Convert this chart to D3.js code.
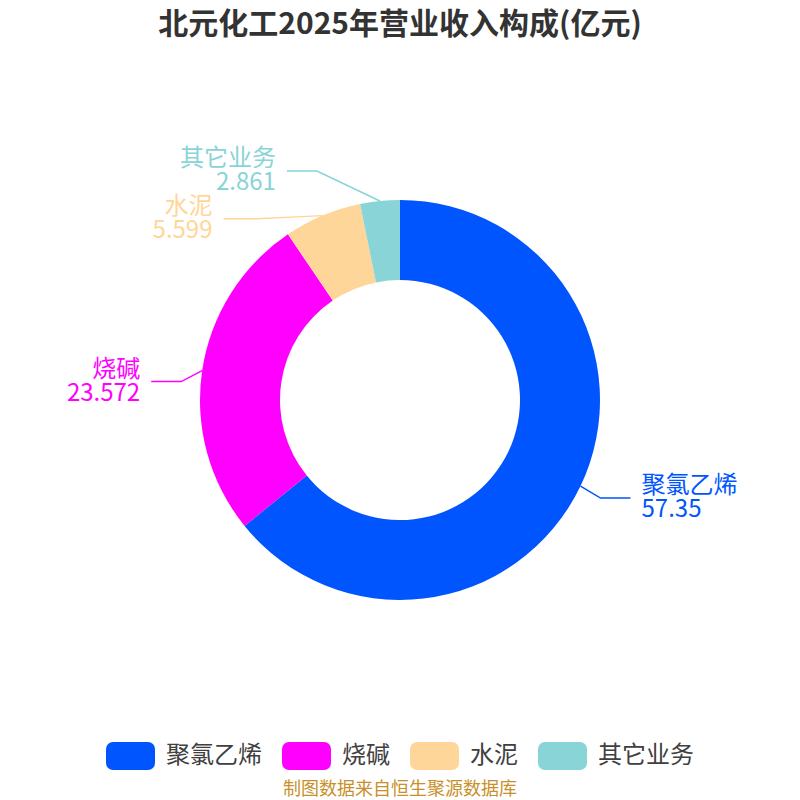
<!DOCTYPE html>
<html>
<head>
<meta charset="utf-8">
<script src="https://cdn.jsdelivr.net/npm/d3@7/dist/d3.min.js"></script>
<style>
  body { margin: 0; background: #fff; }
  text { font-family: "Noto Sans CJK SC", "Noto Sans", sans-serif; }
</style>
</head>
<body>
<div id="chart"></div>
<script>
var width = 800, height = 800;

var categories = ["聚氯乙烯", "烧碱", "水泥", "其它业务"];
var values = [57.35, 23.572, 5.599, 2.861];
var valueLabels = ["57.35", "23.572", "5.599", "2.861"];
var colors = ["#0055ff", "#ff00ff", "#ffd699", "#88d4d6"];
// label elbow / end offsets (label layout after overlap avoidance)
var labelElbow = [[20, 12], [-21, 11], [-65, 3], [-63, -30]];
var labelEnd = [[50, 12], [-51, 11], [-99, 3], [-93, -30]];

var cx = 400, cy = 400, outerR = 200, innerR = 120;

var svg = d3.select("#chart").append("svg")
  .attr("width", width)
  .attr("height", height);

svg.append("text")
  .attr("x", width / 2)
  .attr("y", 34)
  .attr("text-anchor", "middle")
  .style("font-size", "30px")
  .style("font-weight", "bold")
  .style("fill", "#333")
  .text("北元化工2025年营业收入构成(亿元)");

var pie = d3.pie().sort(null).value(function(d) { return d; });
var arcs = pie(values);
var arc = d3.arc().innerRadius(innerR).outerRadius(outerR);

var g = svg.append("g").attr("transform", "translate(" + cx + "," + cy + ")");

g.selectAll("path.slice")
  .data(arcs)
  .join("path")
  .attr("class", "slice")
  .attr("d", arc)
  .attr("fill", function(d, i) { return colors[i]; });

// label lines and labels
arcs.forEach(function(d, i) {
  var mid = (d.startAngle + d.endAngle) / 2;
  var p0 = [outerR * Math.sin(mid), -outerR * Math.cos(mid)];
  var p1 = [p0[0] + labelElbow[i][0], p0[1] + labelElbow[i][1]];
  var p2 = [p0[0] + labelEnd[i][0], p0[1] + labelEnd[i][1]];
  g.append("path")
    .attr("d", d3.line()([p0, p1, p2]))
    .attr("fill", "none")
    .attr("stroke", colors[i])
    .attr("stroke-width", 1.5);
  var right = p2[0] > 0;
  var tx = right ? p2[0] + 11 : p2[0] - 11;
  var t = g.append("text")
    .attr("text-anchor", right ? "start" : "end")
    .style("font-size", "24px")
    .style("fill", colors[i]);
  t.append("tspan").attr("x", tx).attr("y", p2[1] - 5).text(categories[i]);
  t.append("tspan").attr("x", tx).attr("y", p2[1] + 19).text(valueLabels[i]);
});

// legend: measure texts, then center the row
var legend = svg.selectAll("g.legend")
  .data(categories)
  .join("g")
  .attr("class", "legend");

legend.append("rect")
  .attr("y", 742)
  .attr("width", 49)
  .attr("height", 28)
  .attr("rx", 7)
  .attr("fill", function(d, i) { return colors[i]; });

var ltext = legend.append("text")
  .attr("x", 60)
  .attr("y", 763)
  .style("font-size", "24px")
  .style("fill", "#404040")
  .text(function(d) { return d; });

var widths = [];
ltext.each(function() { widths.push(this.getComputedTextLength()); });
var total = d3.sum(widths) + categories.length * 60 + (categories.length - 1) * 20;
var xs = [], acc = (width - total) / 2;
widths.forEach(function(w) { xs.push(acc); acc += 60 + w + 20; });
legend.attr("transform", function(d, i) { return "translate(" + xs[i] + ",0)"; });

svg.append("text")
  .attr("x", width / 2)
  .attr("y", 795)
  .attr("text-anchor", "middle")
  .style("font-size", "18px")
  .style("fill", "#c8902a")
  .text("制图数据来自恒生聚源数据库");
</script>
</body>
</html>
